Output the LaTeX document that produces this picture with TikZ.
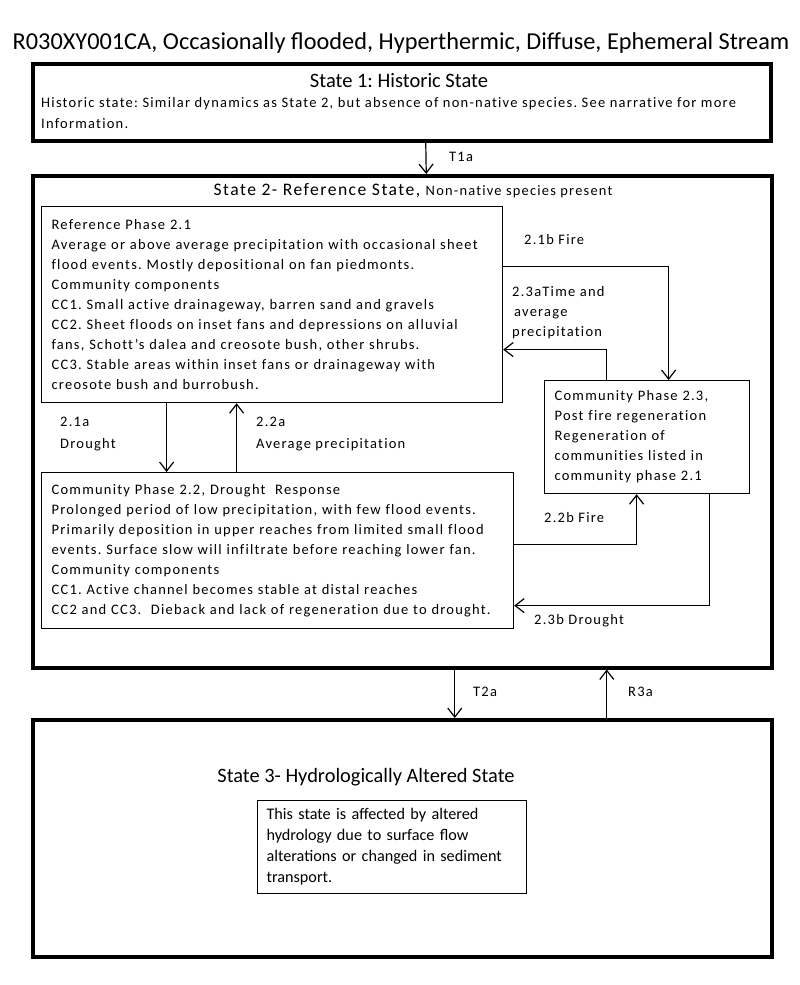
\documentclass[tikz,border=0pt]{standalone}
\usepackage{fontspec}
\setmainfont{Carlito}[LetterSpace=8.5, Ligatures=NoCommon]
\newfontfamily\titlefont{Carlito}
\usetikzlibrary{arrows.meta}
\frenchspacing

\tikzset{
  statebox/.style={draw, line width=3.5pt, anchor=north west, inner sep=0pt},
  phasebox/.style={draw, line width=1.2pt, anchor=north west, align=left, inner xsep=10pt, inner ysep=0pt, font=\fontsize{14.5}{20}\selectfont},
  lbl/.style={anchor=north west, align=left, inner sep=0pt, font=\fontsize{14.5}{22}\selectfont},
  arr/.style={line width=1.2pt, -{Straight Barb[length=9pt,width=14pt]}},
}

\begin{document}
\begin{tikzpicture}[x=1pt, y=-1pt]
\useasboundingbox[fill=white] (0,0) rectangle (800,985);
\node (title) at (401,43) {\titlefont\fontsize{24.3}{28}\selectfont R030XY001CA, Occasionally flooded, Hyperthermic, Diffuse, Ephemeral Stream};

\node[statebox, minimum width=738pt, minimum height=77pt] (s1) at (31,62) {};
\node (s1head) at (399,81) {\titlefont\fontsize{20.5}{22}\selectfont State 1: Historic State};
\node[lbl, font=\fontsize{14.5}{21}\selectfont] (s1text) at (41,97) {Historic state: Similar dynamics as State 2, but absence of non-native species. See narrative for more\\Information.};

\node[statebox, minimum width=739pt, minimum height=492pt] (s2) at (31,174) {};
\node (s2head) at (413,191) {\fontsize{17.6}{22}\selectfont State 2- Reference State, {\fontsize{14.4}{20}\selectfont Non-native species present}};

\node[phasebox, text width=441pt, minimum height=196pt] (p21) at (41,206) {Reference Phase 2.1\\
Average or above average precipitation with occasional sheet\\
flood events. Mostly depositional on fan piedmonts.\\
Community components\\
CC1. Small active drainageway, barren sand and gravels\\
CC2. Sheet floods on inset fans and depressions on alluvial\\
fans, Schott's dalea and creosote bush, other shrubs.\\
CC3. Stable areas within inset fans or drainageway with\\
creosote bush and burrobush.};

\node[phasebox, text width=452pt, minimum height=156pt] (p22) at (41,472) {Community Phase 2.2, Drought~ Response\\
Prolonged period of low precipitation, with few flood events.\\
Primarily deposition in upper reaches from limited small flood\\
events. Surface slow will infiltrate before reaching lower fan.\\
Community components\\
CC1. Active channel becomes stable at distal reaches\\
CC2 and CC3.~ Dieback and lack of regeneration due to drought.};

\node[phasebox, text width=185pt, minimum height=113pt] (p23) at (544,380) {Community Phase 2.3,\\
Post fire regeneration\\
Regeneration of\\
communities listed in\\
community phase 2.1};

\node[statebox, minimum width=739pt, minimum height=237pt] (s3) at (31,718) {};
\node (s3head) at (366,777) {\titlefont\fontsize{20.4}{22}\selectfont State 3- Hydrologically Altered State};
\node[phasebox, text width=251pt, minimum height=93pt, inner xsep=9pt, font=\titlefont\fontsize{16.2}{21}\selectfont] (s3text) at (257,800) {This state is affected by altered\\
hydrology due to surface flow\\
alterations or changed in sediment\\
transport.};

\draw[arr] ([xshift=24pt]s1.south) -- ([xshift=24pt]s2.north);
\node[lbl, anchor=west] (lT1a) at (449,157) {T1a};

\draw[arr] ([yshift=38pt]p21.east) -| ([xshift=21.5pt]p23.north);
\node[lbl, anchor=west] (l21b) at (524,240) {2.1b Fire};
\draw[arr] ([xshift=-40.5pt]p23.north) |- ([yshift=-45pt]p21.east);
\node[lbl, font=\fontsize{14.5}{20}\selectfont] (l23a) at (512,286) {2.3aTime and\\\hspace{2pt}average\\precipitation};

\coordinate (x21a) at ([xshift=-105.5pt]p21.south);
\draw[arr] (x21a) -- (x21a |- p22.north);
\node[lbl] (l21a) at (60,417) {2.1a\\Drought};
\coordinate (x22a) at ([xshift=-35.5pt]p21.south);
\draw[arr] (x22a |- p22.north) -- (x22a);
\node[lbl] (l22a) at (256,417) {2.2a\\Average precipitation};

\draw[arr] ([yshift=6pt]p22.east) -| ([xshift=-10.5pt]p23.south);
\node[lbl, anchor=west] (l22b) at (544,518) {2.2b Fire};
\draw[arr] ([xshift=62.5pt]p23.south) |- ([yshift=-55pt]p22.east);
\node[lbl, anchor=west] (l23b) at (534,621) {2.3b Drought};

\draw[arr] ([xshift=52.5pt]s2.south) -- ([xshift=52.5pt]s3.north);
\node[lbl, anchor=west] (lT2a) at (473,692) {T2a};
\draw[arr] ([xshift=204.5pt]s3.north) -- ([xshift=204.5pt]s2.south);
\node[lbl, anchor=west] (lR3a) at (628,692) {R3a};
\end{tikzpicture}
\end{document}
